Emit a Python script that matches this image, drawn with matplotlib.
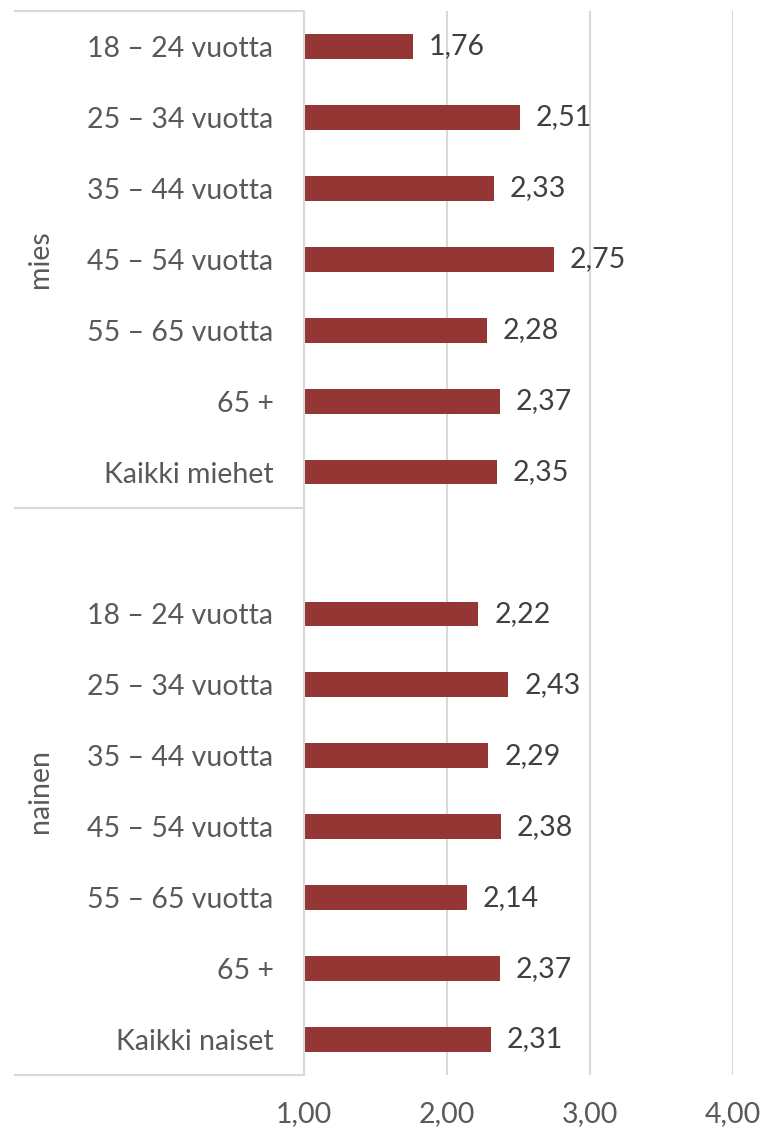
import numpy as np
import matplotlib.pyplot as plt
import matplotlib.transforms as mtransforms

# data
groups = ["mies", "nainen"]
men_labels = ["18 – 24 vuotta", "25 – 34 vuotta", "35 – 44 vuotta", "45 – 54 vuotta",
              "55 – 65 vuotta", "65 +", "Kaikki miehet"]
men_values = [1.76, 2.51, 2.33, 2.75, 2.28, 2.37, 2.35]
women_labels = ["18 – 24 vuotta", "25 – 34 vuotta", "35 – 44 vuotta", "45 – 54 vuotta",
                "55 – 65 vuotta", "65 +", "Kaikki naiset"]
women_values = [2.22, 2.43, 2.29, 2.38, 2.14, 2.37, 2.31]
x_ticks = [1.0, 2.0, 3.0, 4.0]

plt.rcParams['font.family'] = ['Lato', 'DejaVu Sans']

BAR = '#943634'
GRID = '#d9d9d9'
TXT = '#595959'
VAL = '#404040'
FS = 20.5


def main():
    # women group starts with one blank category, like the Excel source
    labels = men_labels + [""] + women_labels
    values = men_values + [np.nan] + women_values
    pos = np.arange(len(labels))

    fig = plt.figure(figsize=(7.65, 11.31), dpi=100)
    W, H = 765, 1131
    ax = fig.add_axes([304 / W, 1 - 1075 / H, (733 - 304) / W, (1075 - 11) / H])

    vals = np.array(values)
    ax.barh(pos, vals - 1, left=1, height=0.35, color=BAR, zorder=3)
    for p, v in zip(pos, vals):
        if np.isnan(v):
            continue
        ax.text(v + 0.11, p, f"{v:.2f}".replace(".", ","), va='center', ha='left',
                fontsize=FS, color=VAL)

    ax.set_xlim(1, 4)
    ax.set_ylim(len(labels) - 0.5, -0.5)
    ax.set_xticks(x_ticks)
    ax.set_xticklabels([f"{t:.2f}".replace(".", ",") for t in x_ticks], fontsize=FS, color=TXT)
    ax.set_yticks(pos)
    ax.set_yticklabels(labels, fontsize=FS, color=TXT)
    ax.tick_params(axis='both', length=0)
    ax.tick_params(axis='y', pad=22)
    ax.tick_params(axis='x', pad=19)
    ax.xaxis.grid(True, color=GRID, lw=1.5)
    ax.set_axisbelow(True)
    for s in ['top', 'right', 'bottom']:
        ax.spines[s].set_visible(False)
    ax.spines['left'].set_color(GRID)
    ax.spines['left'].set_linewidth(1.5)
    ax.spines['left'].set_zorder(4)

    # category box on the left: horizontal separators
    trans = mtransforms.blended_transform_factory(ax.transAxes, ax.transData)
    x_left = -(304 - 15) / (733 - 304)
    for yb in [-0.5, len(men_labels) - 0.5, len(labels) - 0.5]:
        ax.plot([x_left, 0], [yb, yb], color=GRID, lw=1.5, transform=trans, clip_on=False)

    # group labels, rotated
    x_grp = -(304 - 40) / (733 - 304)
    ax.text(x_grp, (len(men_labels) - 1) / 2, groups[0], rotation=90, va='center', ha='center',
            fontsize=FS, color=TXT, transform=trans)
    ax.text(x_grp, len(men_labels) + len(women_labels) / 2, groups[1], rotation=90,
            va='center', ha='center', fontsize=FS, color=TXT, transform=trans)

    fig.savefig("out.png", dpi=100)


if __name__ == "__main__":
    main()
